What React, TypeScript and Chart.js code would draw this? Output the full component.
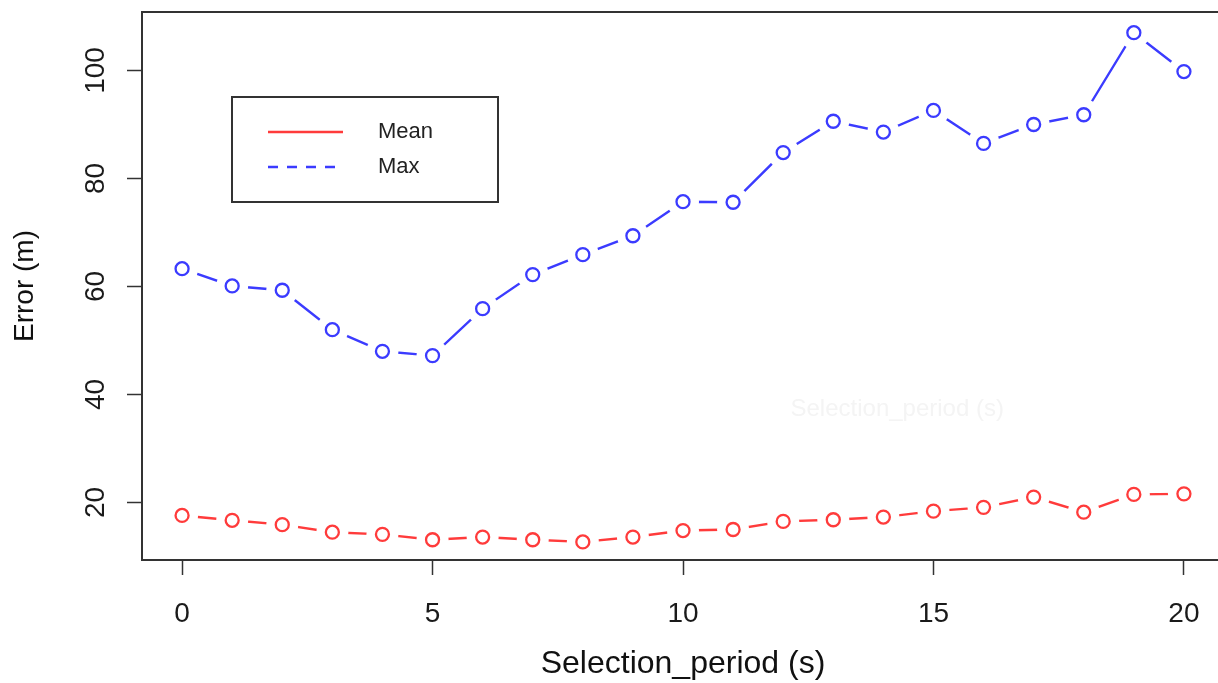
import React, { useEffect, useRef } from 'react';
import { Chart, registerables } from 'chart.js';

Chart.register(...registerables);

const periods = [0, 1, 2, 3, 4, 5, 6, 7, 8, 9, 10, 11, 12, 13, 14, 15, 16, 17, 18, 19, 20];
const meanError = [17.6, 16.7, 15.9, 14.5, 14.1, 13.1, 13.6, 13.1, 12.7, 13.6, 14.8, 15.0, 16.5, 16.8, 17.3, 18.4, 19.1, 21.0, 18.2, 21.5, 21.6];
const maxError = [63.3, 60.1, 59.3, 52.0, 48.0, 47.2, 55.9, 62.2, 65.9, 69.4, 75.7, 75.6, 84.8, 90.6, 88.6, 92.6, 86.5, 90.0, 91.8, 107.0, 99.8];
const xTicks = [0, 5, 10, 15, 20];
const yTicks = [20, 40, 60, 80, 100];
const seriesNames = ['Mean', 'Max'];
const seriesColors = ['#ff3b3b', '#3b3bff'];
const xTitle = 'Selection_period (s)';
const yTitle = 'Error (m)';
const ghostText = 'Selection_period (s)';

const FONT = '"Liberation Sans", Arial, Helvetica, sans-serif';

const framePlugin = {
  id: 'frameBox',
  afterDatasetsDraw(chart: any) {
    const { ctx, chartArea: a } = chart;
    ctx.save();
    ctx.strokeStyle = '#333';
    ctx.lineWidth = 2;
    ctx.strokeRect(a.left, a.top, a.right - a.left, a.bottom - a.top);
    ctx.restore();
  },
};

const ghostPlugin = {
  id: 'ghostText',
  beforeDatasetsDraw(chart: any) {
    const { ctx, chartArea: a } = chart;
    ctx.save();
    ctx.fillStyle = '#f4f4f4';
    ctx.font = `24px ${FONT}`;
    ctx.textAlign = 'center';
    ctx.textBaseline = 'middle';
    ctx.fillText(ghostText, a.left + 0.698 * (a.right - a.left), a.top + 0.726 * (a.bottom - a.top));
    ctx.restore();
  },
};

const legendPlugin = {
  id: 'insetLegend',
  afterDraw(chart: any) {
    const { ctx, chartArea: a } = chart;
    const left = a.left + 90;
    const top = a.top + 85;
    const w = 266;
    const h = 105;
    ctx.save();
    ctx.fillStyle = '#fff';
    ctx.fillRect(left, top, w, h);
    ctx.strokeStyle = '#333';
    ctx.lineWidth = 2;
    ctx.strokeRect(left, top, w, h);
    const rows = [top + 35, top + 70];
    seriesNames.forEach((name, i) => {
      ctx.beginPath();
      ctx.strokeStyle = seriesColors[i];
      ctx.lineWidth = 2.5;
      ctx.setLineDash(i === 1 ? [10, 9] : []);
      ctx.moveTo(left + 36, rows[i]);
      ctx.lineTo(left + 111, rows[i]);
      ctx.stroke();
      ctx.setLineDash([]);
      ctx.fillStyle = '#222';
      ctx.font = `22px ${FONT}`;
      ctx.textAlign = 'left';
      ctx.textBaseline = 'middle';
      ctx.fillText(name, left + 146, rows[i]);
    });
    ctx.restore();
  },
};

export default function App() {
  const canvasRef = useRef<HTMLCanvasElement | null>(null);

  useEffect(() => {
    if (!canvasRef.current) return;
    const series = [meanError, maxError];
    const datasets: any[] = [];
    series.forEach((vals, i) => {
      const pts = periods.map((p, j) => ({ x: p, y: vals[j] }));
      datasets.push({
        label: seriesNames[i],
        data: pts,
        borderColor: seriesColors[i],
        borderWidth: 2.4,
        pointRadius: 0,
        fill: false,
        tension: 0,
        order: 3,
      });
      datasets.push({
        label: seriesNames[i] + ' gap',
        data: pts,
        showLine: false,
        pointRadius: 16,
        pointBackgroundColor: '#ffffff',
        pointBorderWidth: 0,
        pointBorderColor: 'rgba(0,0,0,0)',
        order: 2,
      });
      datasets.push({
        label: seriesNames[i] + ' points',
        data: pts,
        showLine: false,
        pointRadius: 6.5,
        pointBorderWidth: 2.3,
        pointBorderColor: seriesColors[i],
        pointBackgroundColor: '#ffffff',
        order: 1,
      });
    });

    const chart = new Chart(canvasRef.current, {
      type: 'line',
      data: { datasets },
      options: {
        responsive: false,
        animation: false,
        devicePixelRatio: 1,
        events: [],
        layout: { autoPadding: false, padding: { top: 12, right: 16, left: 0, bottom: 0 } },
        plugins: { legend: { display: false }, tooltip: { enabled: false } },
        scales: {
          x: {
            type: 'linear',
            min: -0.8,
            max: 20.8,
            afterBuildTicks: (s: any) => {
              s.ticks = xTicks.map((v) => ({ value: v }));
            },
            afterFit: (s: any) => {
              s.height = 123;
              s.paddingLeft = 0;
              s.paddingRight = 0;
            },
            grid: { drawOnChartArea: false, drawTicks: true, tickLength: 15, tickColor: '#333', tickWidth: 1.5 },
            border: { display: true, color: '#333', width: 2 },
            ticks: { font: { family: FONT, size: 28 }, color: '#1a1a1a', padding: 22, maxRotation: 0, autoSkip: false },
            title: { display: true, text: xTitle, font: { family: FONT, size: 32 }, color: '#111', padding: { top: 0, bottom: 0 } },
          },
          y: {
            type: 'linear',
            min: 9.35,
            max: 110.83,
            afterBuildTicks: (s: any) => {
              s.ticks = yTicks.map((v) => ({ value: v }));
            },
            afterFit: (s: any) => {
              s.width = 142;
              s.paddingTop = 0;
              s.paddingBottom = 0;
            },
            grid: { drawOnChartArea: false, drawTicks: true, tickLength: 15, tickColor: '#333', tickWidth: 1.5 },
            border: { display: true, color: '#333', width: 2 },
            ticks: { font: { family: FONT, size: 28 }, color: '#1a1a1a', padding: 7, minRotation: 90, maxRotation: 90, crossAlign: 'center', autoSkip: false },
            title: { display: true, text: yTitle, font: { family: FONT, size: 28 }, color: '#111', padding: { top: 8, bottom: 0 } },
          },
        },
      } as any,
      plugins: [ghostPlugin, framePlugin, legendPlugin],
    });
    return () => chart.destroy();
  }, []);

  return (
    <div style={{ position: 'absolute', left: 0, top: 0, width: 1218, height: 683, overflow: 'hidden', background: '#fff' }}>
      <canvas ref={canvasRef} width={1240} height={683} style={{ display: 'block' }} />
    </div>
  );
}
